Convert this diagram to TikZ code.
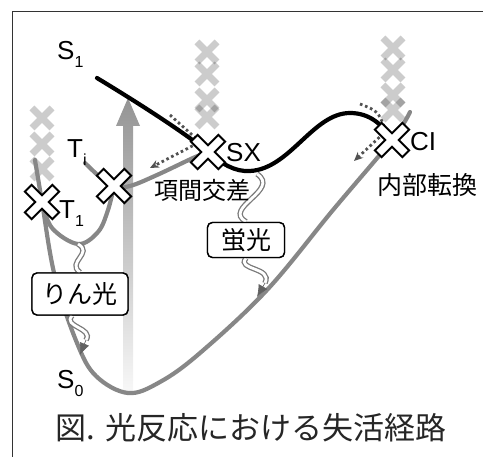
\documentclass[tikz,border=0pt]{standalone}
\usepackage{fontspec}
\setmainfont{Liberation Sans}
\newfontfamily\jpfont{Noto Sans CJK JP}
\usetikzlibrary{arrows.meta}
\newcommand\stsub[2]{#1\raisebox{-0.3em}{\fontsize{16}{16}\selectfont #2}}
\begin{document}
\begin{tikzpicture}[x=1pt,y=-1pt,
  pes/.style={draw=black!47, line width=4.2pt, line cap=round, line join=round},
  s1pes/.style={draw=black, line width=4.2pt, line cap=round},
  dotarrow/.style={draw=black!68, line width=2.8pt, dash pattern=on 2.6pt off 2.8pt, -{Stealth[length=9pt,width=8pt]}},
  wave/.style={draw=black!52, line width=1.3pt, double=white, double distance=2.8pt},
  wavetip/.style={draw=black!62, fill=black!62, line width=0.6pt, -{Latex[length=12pt,width=10pt]}},
  lab/.style={font=\fontsize{26}{28}\selectfont, inner sep=0pt},
  jlab/.style={font=\jpfont\fontsize{24}{26}\selectfont, inner sep=0pt},
  jbox/.style={draw=black, line width=1.4pt, fill=white, rounded corners=5pt, font=\jpfont\fontsize{25}{26}\selectfont, inner sep=3pt},
  xmark/.pic={\draw[line width=2pt, fill=white, line join=miter, rotate=45]
     (-4.8,-19.5) -- (4.8,-19.5) -- (4.8,-4.8) -- (19.5,-4.8) -- (19.5,4.8) -- (4.8,4.8) -- (4.8,19.5)
     -- (-4.8,19.5) -- (-4.8,4.8) -- (-19.5,4.8) -- (-19.5,-4.8) -- (-4.8,-4.8) -- cycle;},
  ghost/.pic={\draw[line width=7pt, draw=black, opacity=0.2] (-10,-10) -- (10,10) (-10,10) -- (10,-10);}
]
\useasboundingbox (0,0) rectangle (483,457);
% frame
\draw[line width=1pt, black!80] (12,457) -- (12,12) -- (483,12);

% named points
\coordinate (SX) at (208,152);
\coordinate (CI) at (392,140);
\coordinate (T1) at (42,202);
\coordinate (Ti) at (114,186);
\coordinate (S1start) at (97,78);
\coordinate (T1min) at (78,244);
\coordinate (flstart) at (257,174);
\coordinate (flend) at (265,283);
\coordinate (fltip) at (257,297);
\coordinate (phend) at (86,340);
\coordinate (phtip) at (80,355);

% ghost crosses
\foreach \y in {52,74,100,117} \pic at (207,\y) {ghost};
\foreach \y in {48,70,95,110} \pic at (393,\y) {ghost};
\foreach \y in {118,144,169} \pic at (42,\y) {ghost};

% vertical excitation arrow
\shade[top color=black!42, bottom color=black!3]
  (123,392) -- (123,126) -- (116,126) -- (128,98) -- (140,126) -- (133,126) -- (133,392) -- cycle;

% ground state S0
\draw[pes] plot[smooth, tension=0.6] coordinates {(410,112) (CI) (333,210) (267,290) (200,353) (160,382) (128,393) (96,376) (77,343) (55,277) (T1) (35,160)};
% T1 well
\draw[pes] plot[smooth, tension=0.6] coordinates {(T1) (52,228) (T1min) (98,232) (108,210) (Ti)};
% Ti curve
\draw[pes] plot[smooth, tension=0.6] coordinates {(85,163) (100,177) (Ti) (130,186) (157,175) (193,158) (SX)};
% S1
\draw[s1pes] (S1start) .. controls (140,104) and (185,133) .. (SX)
  .. controls (222,164) and (235,172) .. (250,171)
  .. controls (290,169) and (313,113) .. (350,113)
  .. controls (370,113) and (383,125) .. (CI);

% dotted paths
\draw[dotarrow] (170,115) -- (200,142) -- (150,168);
\draw[dotarrow] (360,104) .. controls (378,111) .. (386,131) -- (354,161);

% fluorescence / phosphorescence boxes and waves
\node[jbox, minimum width=77pt, minimum height=35pt] (fl) at (246,240) {蛍光};
\node[jbox, minimum width=96pt, minimum height=42pt] (ph) at (80,294) {りん光};
\draw[wave] (flstart) .. controls +(24,16) and +(-24,-14) .. (fl.north);
\draw[wave] (fl.south) .. controls +(-10,12) and +(8,-16) .. (flend);
\draw[wavetip] (flend) -- (fltip);
\draw[wave] (T1min) .. controls +(16,9) and +(-14,-10) .. (ph.north);
\draw[wave] ([xshift=-8pt]ph.south) .. controls +(-10,11) and +(8,-12) .. (phend);
\draw[wavetip] (phend) -- (phtip);
\node[jbox, minimum width=77pt, minimum height=35pt] at (fl) {蛍光};
\node[jbox, minimum width=96pt, minimum height=42pt] at (ph) {りん光};

% crossing marks
\pic at (SX) {xmark};
\pic at (CI) {xmark};
\pic at (T1) {xmark};
\pic at (Ti) {xmark};

% labels
\node[lab, anchor=base west] (s1lab) at (57,60) {\stsub{S}{1}};
\node[lab, anchor=base west] (tilab) at (67,158) {\stsub{T}{i}};
\node[lab, anchor=base west] (t1lab) at (59,219) {\stsub{T}{1}};
\node[lab, anchor=base west] (sxlab) at (226,162) {SX};
\node[lab, anchor=base west] (cilab) at (410,151) {CI};
\node[lab, anchor=base west] (s0lab) at (57,389) {\stsub{S}{0}};
\node[jlab] (isc) at (202,190) {項間交差};
\node[jlab, font=\jpfont\fontsize{25}{26}\selectfont] (ic) at (427,185) {内部転換};

% caption
\node[font=\jpfont\fontsize{31}{34}\selectfont, text=black!85] (cap) at (251,428) {図.\hspace{10pt}光反応における失活経路};
\end{tikzpicture}
\end{document}
